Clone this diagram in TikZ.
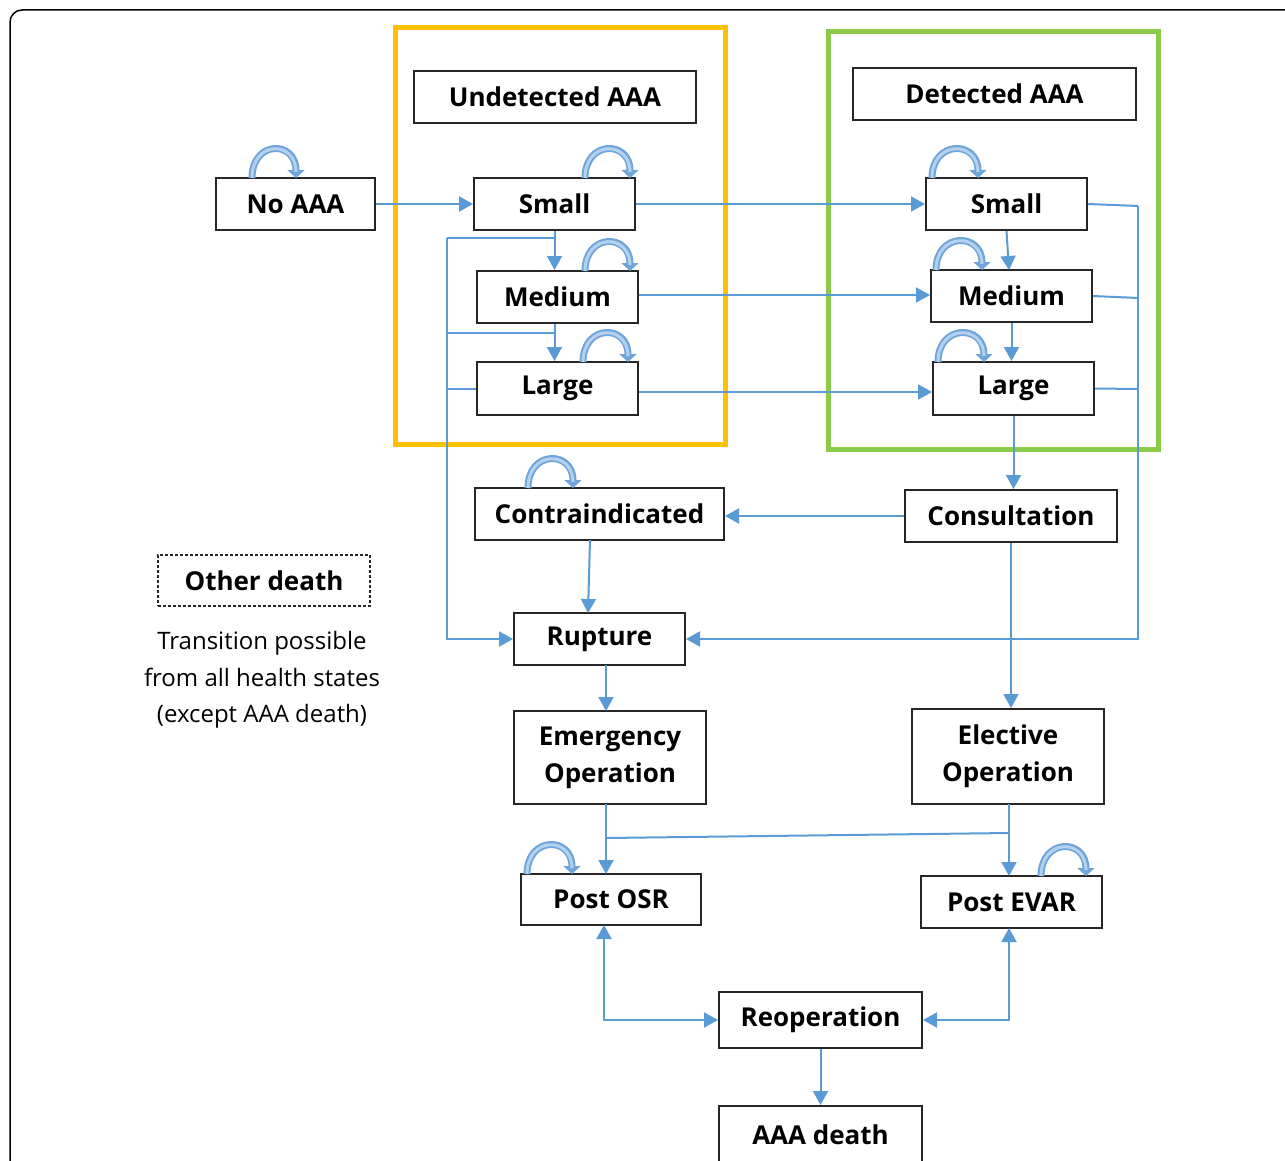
\documentclass[tikz,border=0pt]{standalone}
\usepackage{fontspec}
\setmainfont{Open Sans}
\usetikzlibrary{arrows.meta,calc}
\definecolor{lineblue}{HTML}{5B9BD5}
\definecolor{loopblue}{HTML}{6FA5DA}
\definecolor{loopinner}{HTML}{B4D2EE}
\definecolor{orangeframe}{HTML}{FFC000}
\definecolor{greenframe}{HTML}{8CCB4A}
\begin{document}
\begin{tikzpicture}[x=1pt,y=-1pt,
  box/.style={draw=black!85, line width=2pt, minimum height=52pt, inner sep=0pt, font=\fontsize{26}{30}\selectfont\bfseries, align=center},
  conn/.style={draw=lineblue, line width=2pt, -{Triangle[width=15pt,length=14pt]}},
  plain/.style={draw=lineblue, line width=2pt},
  both/.style={draw=lineblue, line width=2pt, {Triangle[width=15pt,length=14pt]}-{Triangle[width=15pt,length=14pt]}},
  selfloop/.style={draw=loopblue, line width=7pt, -{Triangle[width=17pt,length=8pt]}},
  selfloopin/.style={draw=loopinner, line width=3pt, shorten >=6pt},
  frame/.style={line width=5pt}
]
\useasboundingbox (0,0) rectangle (1285,1161);
% outer frame
\draw[line width=1.5pt, rounded corners=12pt] (10,1175) -- (10,10) -- (1300,10);

% group frames
\draw[frame, draw=orangeframe] (395,28) rectangle (725,444);
\draw[frame, draw=greenframe] (828,32) rectangle (1158,449);

% nodes
\node[box, minimum width=159pt] (noaaa) at (295.5,204) {No AAA};
\node[box, minimum width=282pt] (utitle) at (555,97) {Undetected AAA};
\node[box, minimum width=161pt] (us) at (554.5,204) {Small};
\node[box, minimum width=161pt] (um) at (557.5,297) {Medium};
\node[box, minimum width=161pt, minimum height=53pt] (ul) at (557.5,388.5) {Large};
\node[box, minimum width=283pt] (dtitle) at (994.5,94) {Detected AAA};
\node[box, minimum width=161pt] (ds) at (1006.5,204) {Small};
\node[box, minimum width=161pt] (dm) at (1011.5,296) {Medium};
\node[box, minimum width=161pt, minimum height=53pt] (dl) at (1013.5,388.5) {Large};
\node[box, minimum width=249pt] (contra) at (599.5,514) {Contraindicated};
\node[box, minimum width=212pt] (consult) at (1011,516) {Consultation};
\node[box, minimum width=212pt, minimum height=51pt, dashed, dash pattern=on 3pt off 2pt, line width=1.5pt] (other) at (264,580.5) {Other death};
\node[font=\fontsize{24}{36.5}\selectfont, align=center] (note) at (262,680) {Transition possible\\from all health states\\(except AAA death)};
\node[box, minimum width=171pt] (rup) at (599.5,639) {Rupture};
\node[box, minimum width=192pt, minimum height=93pt, font=\fontsize{26}{37}\selectfont\bfseries] (emerg) at (610,757.5) {Emergency\\Operation};
\node[box, minimum width=192pt, minimum height=95pt, font=\fontsize{26}{37}\selectfont\bfseries] (elect) at (1008,756.5) {Elective\\Operation};
\node[box, minimum width=180pt, minimum height=51pt] (posr) at (611,899.5) {Post OSR};
\node[box, minimum width=181pt] (pevar) at (1011.5,902) {Post EVAR};
\node[box, minimum width=203pt, minimum height=56pt] (reop) at (820.5,1020) {Reoperation};
\node[box, minimum width=203pt, minimum height=58pt] (aaad) at (820.5,1135) {AAA death};

% horizontal transitions
\draw[conn] (noaaa.east) -- (us.west);
\draw[conn] (us.east) -- (ds.west);
\draw[conn] (um.east |- 0,295) -- (dm.west |- 0,295);
\draw[conn] (ul.east |- 0,392) -- (dl.west |- 0,392);

% undetected progression
\draw[conn] (us.south) -- (us.south |- um.north);
\draw[conn] (um.south -| us.south) -- (us.south |- ul.north);
% left bus to rupture
\coordinate (lb1) at (554.5,238);
\coordinate (lb2) at (554.5,333);
\coordinate (lbx) at (447,238);
\draw[plain] (lb1) -- (lbx);
\draw[plain] (lb2) -- (lbx |- lb2);
\draw[plain] (ul.west) -- (lbx |- ul.west);
\draw[conn] (lbx) |- (rup.west);

% detected progression
\draw[conn] (ds.south) -- (1009,270);
\draw[conn] (dm.south) -- (dm.south |- dl.north);
\draw[conn] (dl.south) -- (dl.south |- consult.north);

% right bus to rupture
\coordinate (rbx) at (1138,206);
\draw[plain] (ds.east) -- (rbx);
\draw[plain] (dm.east) -- (1138,298);
\draw[plain] (dl.east) -- (1138,389);
\draw[conn] (rbx) |- (rup.east);

% consultation
\draw[conn] (consult.west) -- (contra.east |- consult.west);
\draw[conn] (590,540) -- (588,613);
\draw[conn] (606,665) -- (606,711);
\draw[conn] (consult.south) -- (consult.south |- elect.north);

% operations to post states
\coordinate (cl) at (606,838);
\coordinate (cr) at (1009,833);
\draw[conn] (606,804) -- (606,874);
\draw[conn] (1009,804) -- (1009,876);
\draw[plain] (cl) -- (cr);

% reoperation
\draw[both] (604,925) |- (reop.west);
\draw[both] (1009,928) |- (reop.east);
\draw[conn] (reop.south) -- (aaad.north);

% self loops
\foreach \xa/\xb/\yy in {252/296/178, 585/630/178, 585/630/271, 583/628/362, 932/978/178, 936/982/270, 938/984/362, 528/573/488, 527/572/874, 1041/1086/876}{
  \draw[selfloop] (\xa,\yy) .. controls (\xa,\yy-38) and (\xb,\yy-38) .. (\xb,\yy);
  \draw[selfloopin] (\xa,\yy) .. controls (\xa,\yy-38) and (\xb,\yy-38) .. (\xb,\yy);
}
\end{tikzpicture}
\end{document}
